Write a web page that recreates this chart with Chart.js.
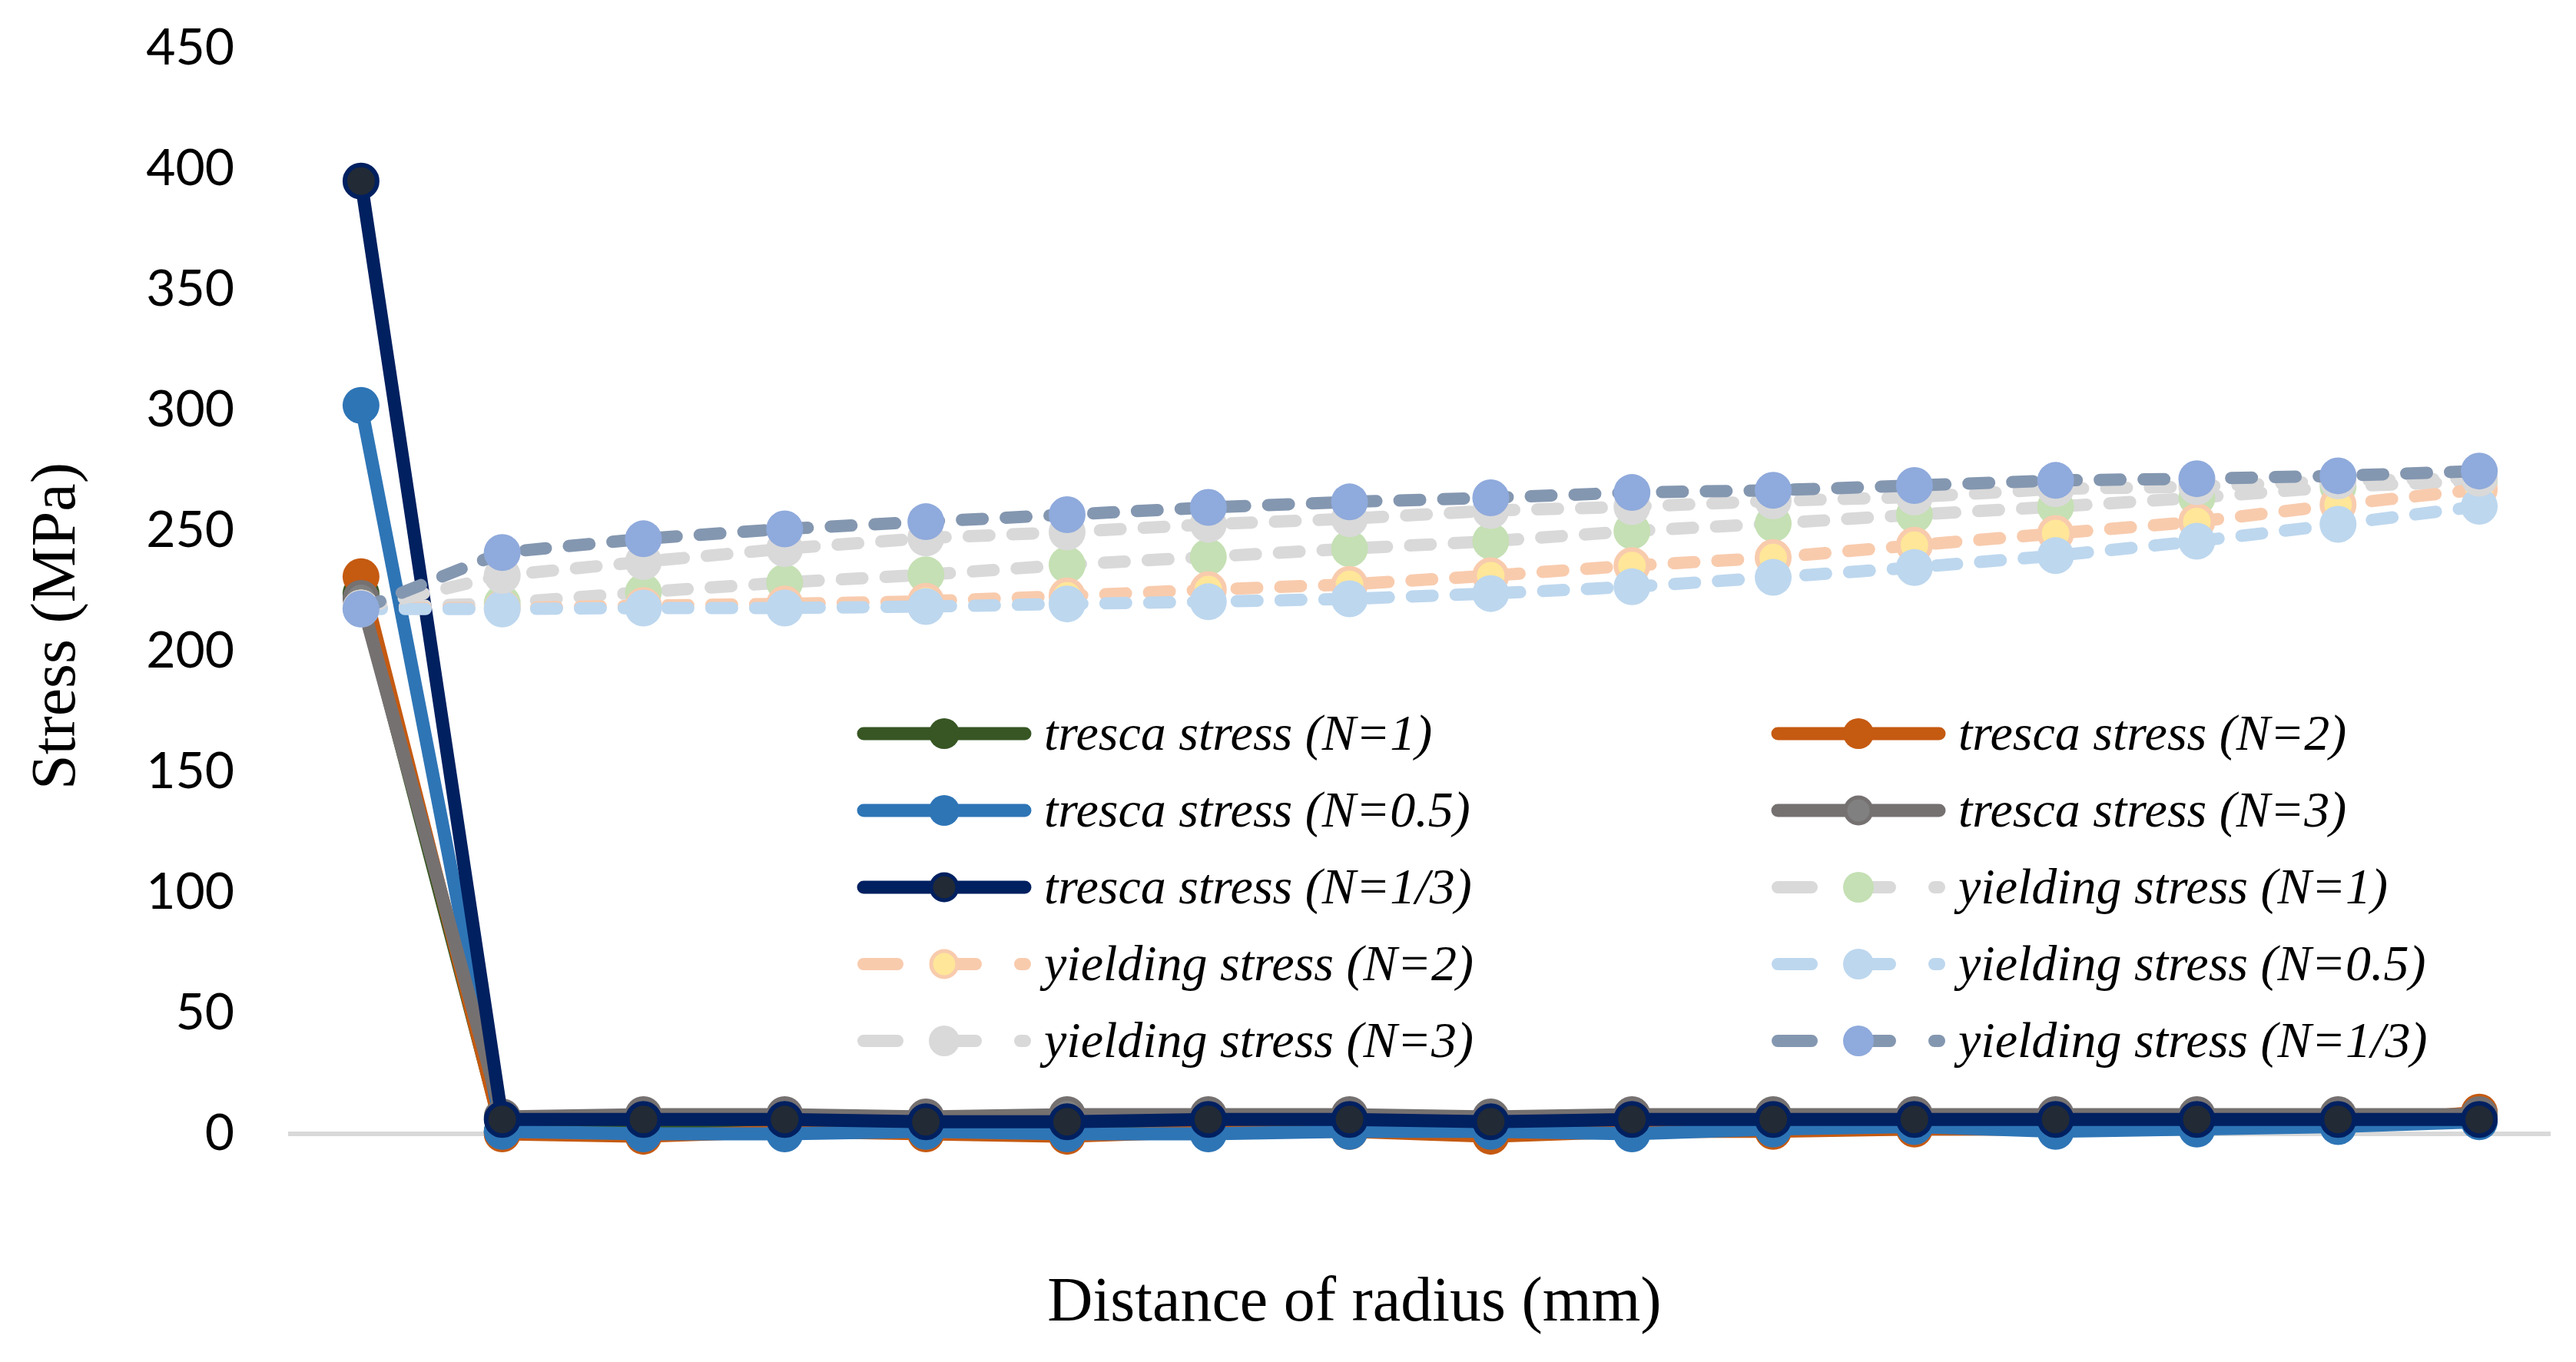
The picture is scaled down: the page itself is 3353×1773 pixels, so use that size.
<!DOCTYPE html>
<html>
<head>
<meta charset="utf-8">
<title>Stress vs distance of radius</title>
<script src="https://cdn.jsdelivr.net/npm/chart.js@4.4.1/dist/chart.umd.min.js"></script>
<style>
  html, body { margin: 0; padding: 0; background: #fff; }
  #wrap { width: 3353px; height: 1773px; }
</style>
</head>
<body>
<div id="wrap"><canvas id="chart" width="3353" height="1773"></canvas></div>
<script>
// --- DATA ---
const radiusLabels = ['1', '2', '3', '4', '5', '6', '7', '8', '9', '10', '11', '12', '13', '14', '15', '16'];
const yTicks = [0, 50, 100, 150, 200, 250, 300, 350, 400, 450];

const trescaN1  = [224, 1, 2, 2, 1, 1, 2, 2, 1, 2, 2, 3, 3, 3, 4, 8];
const trescaN2  = [231, 0, -1, 1, 0, -1, 1, 1, -1, 1, 1, 2, 2, 3, 4, 9];
const trescaN05 = [302, 1, 0, 0, 1, 0, 0, 1, 1, 0, 2, 3, 1, 2, 3, 5];
const trescaN3  = [222, 7, 8, 8, 7, 8, 8, 8, 7, 8, 8, 8, 8, 8, 8, 8];
const trescaN13 = [395, 6, 6, 6, 5, 5, 6, 6, 5, 6, 6, 6, 6, 6, 6, 6];

const yieldN1  = [218, 220, 224.6, 228.6, 231.8, 235.9, 239.2, 242.6, 245.7, 249.9, 253, 256.7, 260, 263.7, 268.3, 270.7];
const yieldN2  = [218, 218, 219, 219.7, 220.8, 223, 225.6, 227.8, 231.4, 235.6, 238.9, 244, 248.9, 253.8, 260.8, 267.2];
const yieldN05 = [217.6, 217.6, 218, 218, 218.6, 219.7, 220.6, 221.8, 224, 226.8, 230.7, 234.8, 239.7, 245.7, 252.7, 260.2];
const yieldN3  = [218, 231.5, 237.2, 242.6, 247, 249.5, 252.7, 255, 258.4, 260, 262.4, 264, 267.4, 268.3, 270.7, 271.8];
const yieldN13 = [217.6, 241, 246.7, 250.8, 253.8, 256.7, 259.7, 262, 263.7, 265.9, 266.8, 268.8, 270.9, 271.6, 272.8, 274.8];

const seriesNames = [
  'tresca stress (N=1)', 'tresca stress (N=2)',
  'tresca stress (N=0.5)', 'tresca stress (N=3)',
  'tresca stress (N=1/3)', 'yielding stress (N=1)',
  'yielding stress (N=2)', 'yielding stress (N=0.5)',
  'yielding stress (N=3)', 'yielding stress (N=1/3)'
];

// --- STYLE ---
const DATA_DASH = [27, 30];
const LEGEND_DASH = [44, 58];
const SERIF = '"Liberation Serif", "Times New Roman", serif';

// line colour, marker fill, marker border (null = none), dashed?
const looks = [
  { line: '#375623', fill: '#375623', edge: null,      dash: false },
  { line: '#C55A11', fill: '#C55A11', edge: null,      dash: false },
  { line: '#2E75B6', fill: '#2E75B6', edge: null,      dash: false },
  { line: '#767171', fill: '#808080', edge: '#767171', dash: false },
  { line: '#002060', fill: '#222A35', edge: '#002060', dash: false },
  { line: '#D9D9D9', fill: '#C5E0B4', edge: null,      dash: true },
  { line: '#F8CBAD', fill: '#FFE699', edge: '#F8CBAD', dash: true },
  { line: '#BDD7EE', fill: '#BDD7EE', edge: null,      dash: true },
  { line: '#D9D9D9', fill: '#D9D9D9', edge: null,      dash: true },
  { line: '#8497B0', fill: '#8FAADC', edge: null,      dash: true }
];

const seriesData = [trescaN1, trescaN2, trescaN05, trescaN3, trescaN13,
                    yieldN1, yieldN2, yieldN05, yieldN3, yieldN13];

const datasets = seriesData.map((vals, i) => {
  const lk = looks[i];
  return {
    label: seriesNames[i],
    data: vals,
    borderColor: lk.line,
    borderWidth: lk.dash ? 16 : 17,
    borderDash: lk.dash ? DATA_DASH : [],
    borderCapStyle: 'round',
    borderJoinStyle: 'round',
    tension: 0,
    pointRadius: lk.edge ? 21 : 24,
    pointHoverRadius: lk.edge ? 21 : 24,
    pointBackgroundColor: lk.fill,
    pointBorderColor: lk.edge || lk.fill,
    pointBorderWidth: lk.edge ? 6 : 0,
    clip: false,
    order: seriesData.length - i   // later series on top, like the original
  };
});

// --- LEGEND (2 columns inside the plot) ---
const legendColX = [1116, 2306];
const legendRowY = [955, 1055, 1155, 1255, 1355];

const gridLegend = {
  id: 'gridLegend',
  afterDraw(chart) {
    const ctx = chart.ctx;
    ctx.save();
    datasets.forEach((ds, i) => {
      const lk = looks[i];
      const x0 = legendColX[i % 2];
      const y = legendRowY[Math.floor(i / 2)];
      // line sample
      ctx.beginPath();
      ctx.lineWidth = lk.dash ? 16 : 17;
      ctx.lineCap = 'round';
      ctx.strokeStyle = lk.line;
      ctx.setLineDash(lk.dash ? LEGEND_DASH : []);
      ctx.moveTo(x0 + 8, y);
      ctx.lineTo(x0 + 218, y);
      ctx.stroke();
      ctx.setLineDash([]);
      // marker
      ctx.beginPath();
      ctx.fillStyle = lk.fill;
      ctx.arc(x0 + 113, y, lk.edge ? 17 : 20, 0, Math.PI * 2);
      ctx.fill();
      if (lk.edge) {
        ctx.lineWidth = 5;
        ctx.strokeStyle = lk.edge;
        ctx.stroke();
      }
      // text
      ctx.fillStyle = '#000';
      ctx.font = 'italic 66px ' + SERIF;
      ctx.textAlign = 'left';
      ctx.textBaseline = 'alphabetic';
      ctx.fillText(ds.label, x0 + 243, y + 21);
    });
    ctx.restore();
  }
};

// --- AXIS TITLES ---
const axisTitles = {
  id: 'axisTitles',
  afterDraw(chart) {
    const ctx = chart.ctx;
    ctx.save();
    ctx.fillStyle = '#000';
    ctx.font = '82px ' + SERIF;
    ctx.textAlign = 'center';
    ctx.textBaseline = 'middle';
    ctx.fillText('Distance of radius (mm)', 1763, 1697);
    ctx.translate(75, 815);
    ctx.rotate(-Math.PI / 2);
    ctx.fillText('Stress (MPa)', 0, 0);
    ctx.restore();
  }
};

new Chart(document.getElementById('chart'), {
  type: 'line',
  data: { labels: radiusLabels, datasets: datasets },
  options: {
    responsive: false,
    animation: false,
    events: [],
    layout: { padding: { left: 0, right: 34, top: 63, bottom: 0 } },
    plugins: {
      legend: { display: false },
      tooltip: { enabled: false },
      title: { display: false }
    },
    scales: {
      x: {
        type: 'category',
        offset: true,
        grid: { display: false, drawTicks: false },
        border: { display: true, color: '#D9D9D9', width: 6 },
        ticks: { display: false },
        afterFit(scale) { scale.height = 297; }
      },
      y: {
        min: 0,
        max: 450,
        // tick marks are not drawn (grid off) but their length keeps the labels away from the plot
        grid: { display: false, drawTicks: true, tickLength: 73 },
        border: { display: false },
        afterBuildTicks(scale) { scale.ticks = yTicks.map(v => ({ value: v })); },
        ticks: {
          padding: 0,
          color: '#000',
          font: { family: 'Lato, "Open Sans", sans-serif', size: 66 }
        },
        afterFit(scale) { scale.width = 378; }
      }
    }
  },
  plugins: [gridLegend, axisTitles]
});
</script>
</body>
</html>
